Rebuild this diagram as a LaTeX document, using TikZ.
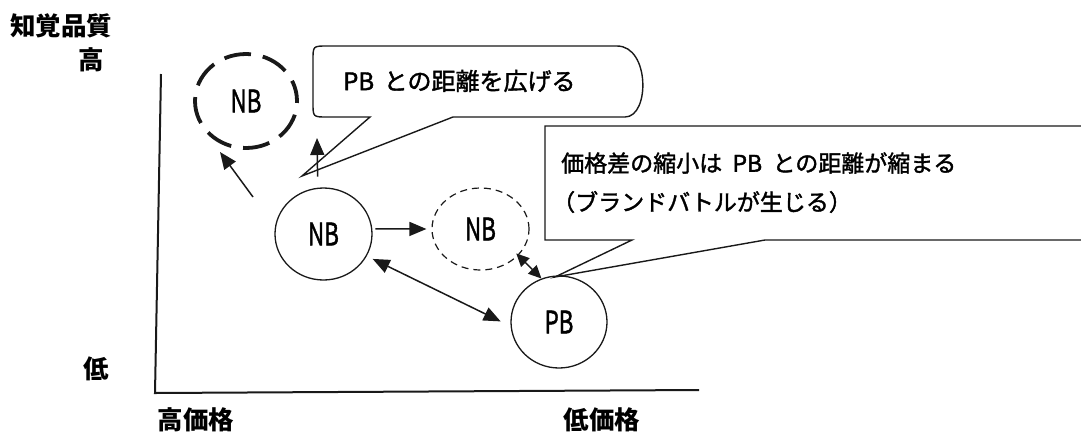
\documentclass[tikz,border=0pt]{standalone}
\usepackage{fontspec}
\usepackage{graphicx}
\setmainfont{Noto Sans CJK JP}
\newfontfamily\jpmed{Noto Sans CJK JP}[FakeBold=1.6]
\usetikzlibrary{arrows.meta,shapes.geometric}
\begin{document}
\begin{tikzpicture}[x=1pt,y=-1pt,
  axlabel/.style={font=\fontsize{25.5}{25.5}\selectfont\bfseries, inner sep=0pt},
  callonetext/.style={font=\jpmed\fontsize{24}{24}\selectfont, inner sep=0pt, anchor=west},
  calltwotext/.style={font=\jpmed\fontsize{23}{23}\selectfont, inner sep=0pt, anchor=west},
  bublabel/.style={font=\jpmed\fontsize{31}{31}\selectfont},
  bub/.style={ellipse, draw=black!90, line width=1.3pt, inner sep=0pt, bublabel},
  dashbub/.style={ellipse, draw=black!90, line width=1.2pt, dash pattern=on 7pt off 5pt, inner sep=0pt, bublabel},
  bigdash/.style={ellipse, draw=black!90, line width=3.8pt, dash pattern=on 27pt off 12pt, dash phase=6pt, inner sep=0pt, bublabel},
  axisline/.style={draw=black!90, line width=2pt},
  callout/.style={draw=black!90, fill=white, line width=1.4pt, line join=miter},
  arr/.style={draw=black!90, line width=1.5pt, -{Triangle[length=17pt,width=14pt]}},
  dbl/.style={draw=black!90, line width=1.5pt, {Triangle[length=17pt,width=14pt]}-{Triangle[length=17pt,width=14pt]}},
  dblsmall/.style={draw=black!90, line width=1.5pt, {Triangle[length=13pt,width=12pt]}-{Triangle[length=13pt,width=12pt]}}
]
\useasboundingbox (0,0) rectangle (1081,432);

% axes
\coordinate (ytop) at (161,74);
\coordinate (origin) at (155,393);
\coordinate (xend) at (699,390);
\draw[axisline] (ytop) -- (origin) -- (xend);

% axis labels
\node[axlabel] (yq) at (61,26) {知覚品質};
\node[axlabel] (yhi) at (91,60) {高};
\node[axlabel] (ylo) at (96,369) {低};
\node[axlabel] (xhi) at (196,420) {高価格};
\node[axlabel] (xlo) at (602,420) {低価格};

% callout 1
\draw[callout] (370,117) -- (327,117) .. controls (313,117) and (313,117) .. (313,103)
  -- (313,60) .. controls (313,46) and (313,46) .. (327,46)
  -- (617,46) .. controls (650,46) and (650,117) .. (625,117)
  -- (453,117) -- (302,176) -- cycle;
\node[callonetext] (c1) at (343,81) {PB\hspace{0.4em}との距離を広げる};

% callout 2
\draw[callout] (1083,240) -- (765,240) -- (555,277) -- (632,240) -- (545,240)
  -- (545,126) -- (1083,126);
\node[calltwotext] (c2a) at (561,163) {価格差の縮小は\hspace{0.45em}PB\hspace{0.45em}との距離が縮まる};
\node[calltwotext] (c2b) at (552,202) {（ブランドバトルが生じる）};

% bubbles
\node[bigdash, minimum width=102pt, minimum height=94pt] (big) at (246,101) {\scalebox{0.72}[1]{NB}};
\node[bub, minimum width=97pt, minimum height=92pt] (nb) at (323.5,234) {\scalebox{0.72}[1]{NB}};
\node[dashbub, minimum width=97pt, minimum height=82pt] (nbd) at (480.5,229) {\scalebox{0.72}[1]{NB}};
\node[bub, minimum width=96pt, minimum height=92pt] (pb) at (559,322) {\scalebox{0.72}[1]{PB}};

% arrows
\coordinate (diagTail) at (253,197);
\coordinate (diagTip) at (220,152);
\draw[arr] (diagTail) -- (diagTip);
\coordinate (upTip) at (317,138);
\draw[arr, shorten <=11pt] (nb.97) -- (upTip);
\draw[arr, shorten <=3pt, shorten >=5pt] (nb.6) -- (nbd.180);
\draw[dbl, shorten <=6.5pt, shorten >=11pt] (nb.-27) -- (pb.185);
\draw[dblsmall, shorten <=-3pt] (nbd.-35) -- (pb.112);
\end{tikzpicture}
\end{document}
